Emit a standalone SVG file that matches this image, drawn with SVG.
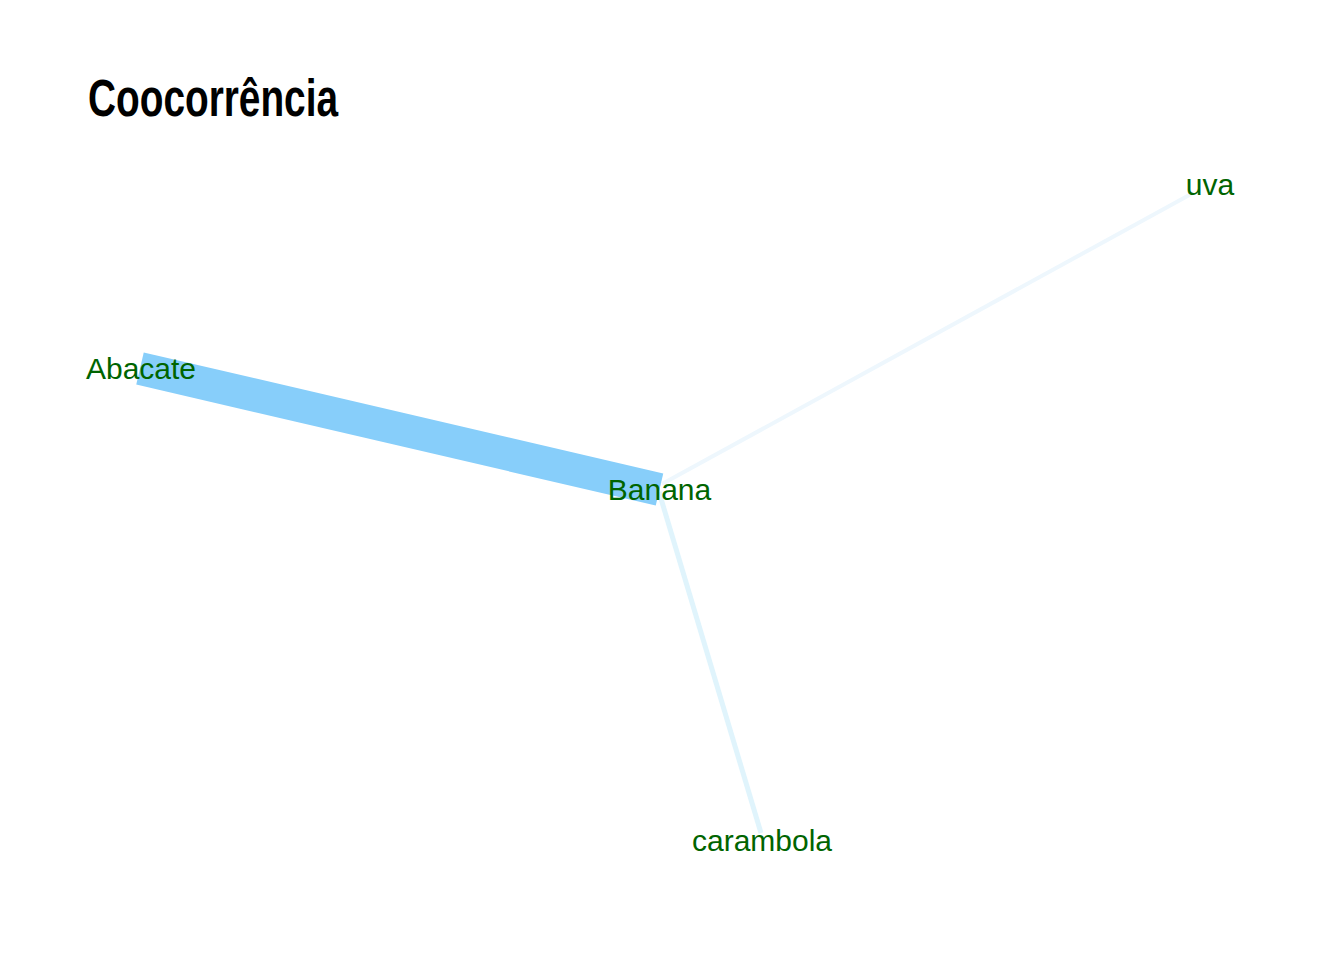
<svg xmlns="http://www.w3.org/2000/svg" width="1344" height="960" viewBox="0 0 1344 960">
<style>
.lbl{font-family:"Liberation Sans",Arial,sans-serif;font-size:30px;fill:#006400;text-anchor:middle}
.title{font-family:"Liberation Sans",Arial,sans-serif;font-size:51px;font-weight:bold;fill:#000}
.edge{fill:none;stroke-linecap:butt}
</style>
<rect width="1344" height="960" fill="#fff"/>
<text class="title" x="88" y="116" textLength="250" lengthAdjust="spacingAndGlyphs">Coocorrência</text>
<g id="connectors">
<line class="edge" x1="662" y1="484" x2="1193" y2="193" stroke="#EEF7FD" stroke-width="4"/>
<line class="edge" x1="659" y1="492" x2="761" y2="833" stroke="#E0F4FC" stroke-width="5"/>
<line class="edge" x1="140" y1="368.5" x2="659.5" y2="489.5" stroke="#87CEFA" stroke-width="33"/>
</g>
<g id="node-Abacate"><text class="lbl" x="141" y="379">Abacate</text></g>
<g id="node-Banana"><text class="lbl" x="659.5" y="500">Banana</text></g>
<g id="node-uva"><text class="lbl" x="1210" y="195">uva</text></g>
<g id="node-carambola"><text class="lbl" x="762" y="850.5">carambola</text></g>
</svg>
